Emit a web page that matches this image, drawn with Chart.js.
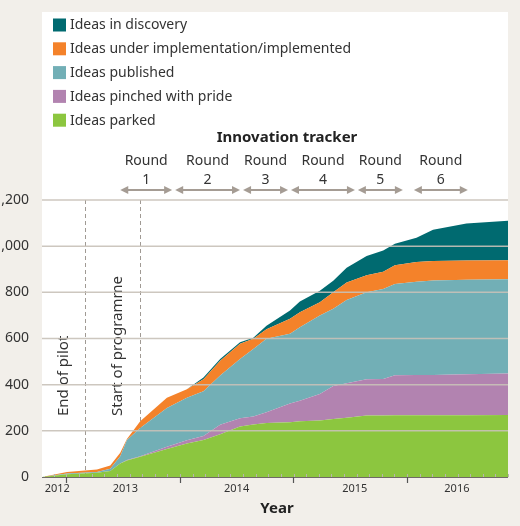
<!DOCTYPE html>
<html><head><meta charset="utf-8">
<script src="https://cdn.jsdelivr.net/npm/chart.js@4"></script>
<style>html,body{margin:0;padding:0;background:#f2efea;}#c{display:block;}</style>
</head><body>
<canvas id="c" width="520" height="526"></canvas>
<script>
const years = [2012.786,2013.006,2013.270,2013.387,2013.475,2013.534,2013.651,2013.886,2014.062,2014.208,2014.355,2014.530,2014.647,2014.763,2014.970,2015.057,2015.233,2015.351,2015.469,2015.645,2015.791,2015.894,2016.084,2016.230,2016.524,2016.890];
const parked     = [0,12,18,26,58,72,88,121,145,160,185,219,227,234,237,241,245,251,257,266,266,267,267,268,268,269];
const pinched    = [0,0,0,0,0,2,2,10,14,18,41,36,35,46,81,89,115,143,149,157,159,174,175,174,177,179];
const published  = [0,3,4,10,32,86,122,168,184,194,214,256,293,319,303,319,340,335,361,377,389,395,404,409,410,409];
const implemented= [0,7,10,14,15,5,29,44,37,51,64,66,44,41,65,65,57,71,76,74,75,81,85,85,83,82];
const discovery  = [0,0,0,0,0,0,0,0,0,8,7,7,4,15,35,46,50,50,64,83,92,93,105,135,160,171];
const seriesNames = ['Ideas parked','Ideas pinched with pride','Ideas published','Ideas under implementation/implemented','Ideas in discovery'];
const yTicks = [0,200,400,600,800,1000,1200];
const yearLabels = ['2012','2013','2014','2015','2016'];
const yearLabelPos = [2012.92,2013.52,2014.50,2015.54,2016.44];
const yearBounds = [2013,2014,2015,2016];
const rounds = ['1','2','3','4','5','6'];
const roundStart = [2013.475,2013.959,2014.557,2014.979,2015.568,2016.061];
const roundEnd   = [2013.932,2014.530,2014.953,2015.542,2015.964,2016.536];
const events = ['End of pilot','Start of programme'];
const eventYears = [2013.167,2013.651];

const colors = ['#8cc63f','#b283b0','#72afb6','#f4822a','#006a70'];
const allSeries = [parked,pinched,published,implemented,discovery];
const FONT = '"Noto Sans", sans-serif';

const datasets = allSeries.map((s,i)=>({
  label: seriesNames[i],
  data: s.map((v,j)=>({x:years[j], y:v})),
  backgroundColor: colors[i], borderWidth:0, pointRadius:0,
  fill: i===0 ? 'origin' : '-1', tension:0
}));

const deco = {
  id:'deco',
  beforeDraw(chart){
    const {ctx, chartArea:a} = chart;
    ctx.save(); ctx.fillStyle='#fff';
    ctx.fillRect(a.left, 12, a.right-a.left, a.bottom-12);
    ctx.restore();
  },
  beforeDatasetsDraw(chart){
    const {ctx, chartArea:a, scales:{x}} = chart;
    ctx.save();
    ctx.strokeStyle='#a09a94'; ctx.lineWidth=1; ctx.setLineDash([4,3]);
    eventYears.forEach(v=>{const px=Math.round(x.getPixelForValue(v))+0.5;
      ctx.beginPath(); ctx.moveTo(px,a.top); ctx.lineTo(px,a.bottom); ctx.stroke();});
    ctx.setLineDash([]);
    ctx.fillStyle='#333'; ctx.font='15px '+FONT; ctx.textAlign='left'; ctx.textBaseline='middle';
    eventYears.forEach((v,i)=>{const px=x.getPixelForValue(v);
      ctx.save(); ctx.translate(px-22, 416); ctx.rotate(-Math.PI/2); ctx.fillText(events[i],0,0); ctx.restore();});
    ctx.restore();
  },
  afterDatasetsDraw(chart){
    const {ctx, chartArea:a, scales:{x,y}} = chart;
    ctx.save();
    ctx.strokeStyle='rgba(200,193,184,0.9)'; ctx.lineWidth=1.5;
    yTicks.forEach(t=>{ if(t===0) return; const py=y.getPixelForValue(t);
      ctx.beginPath(); ctx.moveTo(a.left,py); ctx.lineTo(a.right,py); ctx.stroke();});
    // axis line
    ctx.strokeStyle='#6f6a66'; ctx.lineWidth=1;
    ctx.beginPath(); ctx.moveTo(a.left,a.bottom+0.5); ctx.lineTo(a.right,a.bottom+0.5); ctx.stroke();
    ctx.strokeStyle='#b8b3ae';
    for(let v=2012.89; v<2016.89; v+=1/9){ const px=Math.round(x.getPixelForValue(v))+0.5;
      ctx.beginPath(); ctx.moveTo(px,a.bottom-3); ctx.lineTo(px,a.bottom); ctx.stroke(); }
    ctx.strokeStyle='#555'; ctx.lineWidth=1.2;
    yearBounds.forEach(v=>{const px=Math.round(x.getPixelForValue(v))+0.5;
      ctx.beginPath(); ctx.moveTo(px,a.bottom); ctx.lineTo(px,a.bottom+6); ctx.stroke();});
    // title and rounds
    ctx.fillStyle='#222'; ctx.textAlign='center'; ctx.textBaseline='middle';
    ctx.font='bold 15px '+FONT; ctx.fillText('Innovation tracker', 287, 138);
    ctx.font='14px '+FONT; ctx.fillStyle='#333';
    ctx.strokeStyle='#a59c94'; ctx.fillStyle='#333'; ctx.lineWidth=2;
    rounds.forEach((r,i)=>{
      const x1=x.getPixelForValue(roundStart[i]), x2=x.getPixelForValue(roundEnd[i]);
      const cx=(x1+x2)/2;
      ctx.fillStyle='#333';
      ctx.fillText('Round', cx, 161); ctx.fillText(r, cx, 180);
      ctx.beginPath(); ctx.moveTo(x1+4,190); ctx.lineTo(x2-4,190); ctx.stroke();
      ctx.fillStyle='#a59c94';
      ctx.beginPath(); ctx.moveTo(x1,190); ctx.lineTo(x1+8,186); ctx.lineTo(x1+8,194); ctx.closePath(); ctx.fill();
      ctx.beginPath(); ctx.moveTo(x2,190); ctx.lineTo(x2-8,186); ctx.lineTo(x2-8,194); ctx.closePath(); ctx.fill();
    });
    // legend
    ctx.textAlign='left'; ctx.font='14px '+FONT;
    for(let k=0;k<5;k++){ const i=4-k; const cy=25+k*23.8;
      ctx.fillStyle=colors[i]; ctx.fillRect(53,cy-6.5,13,13);
      ctx.fillStyle='#333'; ctx.fillText(seriesNames[i],70,cy+0.5); }
    // year labels and axis title
    ctx.textAlign='center'; ctx.font='11px '+FONT; ctx.fillStyle='#333';
    yearLabels.forEach((l,i)=>ctx.fillText(l, x.getPixelForValue(yearLabelPos[i]), 489));
    ctx.font='bold 15px '+FONT; ctx.fillStyle='#222'; ctx.fillText('Year', 277, 509);
    ctx.restore();
  }
};

new Chart(document.getElementById('c'), {
  type:'line',
  data:{datasets},
  options:{
    responsive:false, animation:false, devicePixelRatio:1,
    layout:{padding:{top:200,right:12,left:0,bottom:0}},
    plugins:{legend:{display:false}, tooltip:{enabled:false}},
    scales:{
      x:{type:'linear', min:2012.786, max:2016.89,
         grid:{display:false}, border:{display:false},
         ticks:{display:false},
         afterFit(s){ s.height=49; }},
      y:{stacked:true, min:0, max:1200,
         grid:{display:false}, border:{display:false},
         afterBuildTicks(s){ s.ticks = yTicks.map(v=>({value:v})); },
         ticks:{color:'#333', font:{family:FONT,size:14}, padding:5},
         afterFit(s){ s.width=42; }}
    }
  },
  plugins:[deco]
});
</script>
</body></html>
